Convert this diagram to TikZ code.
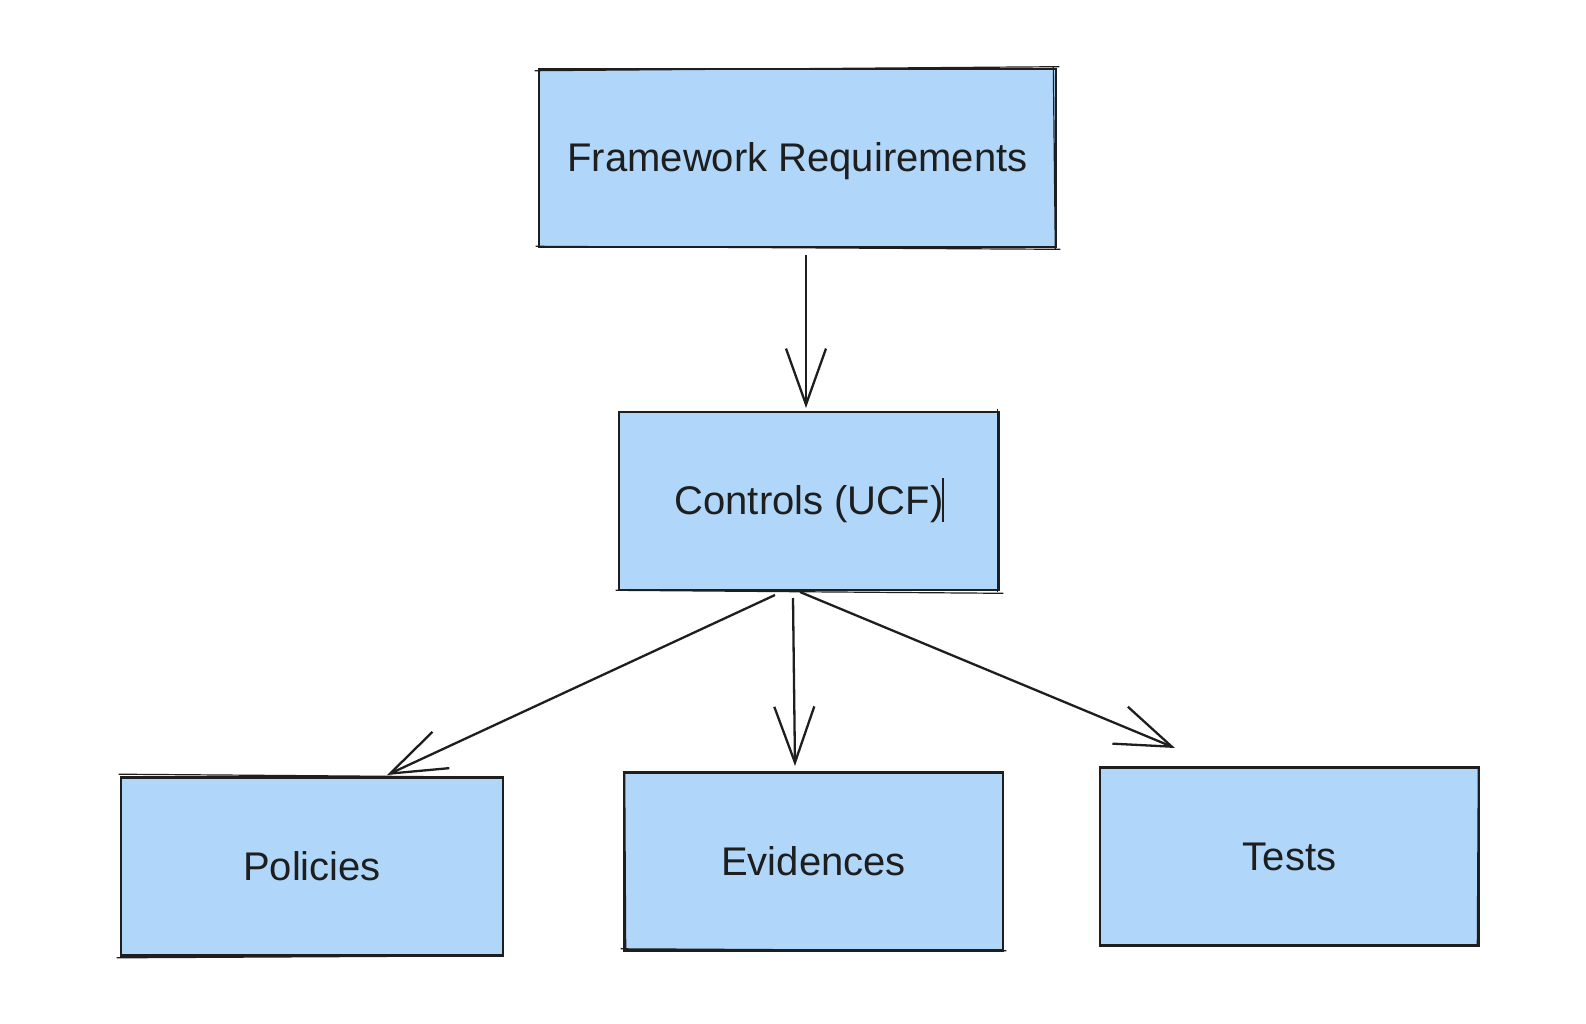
\documentclass[tikz,border=0pt]{standalone}
\usepackage{fontspec}
\setmainfont{Liberation Sans}
\usetikzlibrary{arrows.meta,calc}
\definecolor{boxblue}{RGB}{176,215,250}
\definecolor{ink}{RGB}{30,30,30}
\begin{document}
\begin{tikzpicture}[x=1pt,y=-1pt,
  box/.style={draw=ink,fill=boxblue,line width=2.6pt,minimum height=178pt,inner sep=0pt,
    text height=27pt,text depth=0pt,
    font=\fontsize{40}{48}\selectfont,text=ink},
  conn/.style={draw=ink,line width=2.3pt,-{Straight Barb[length=56pt,width=40pt,line width=2.3pt]}}]
\useasboundingbox (0,0) rectangle (1586,1024);
\fill[white] (0,0) rectangle (1586,1024);
\node[box,minimum width=517pt] (fw) at (797.5,158) {Framework Requirements};
\node[box,minimum width=380pt] (ctrl) at (809,501) {Controls (UCF)};
\node[box,minimum width=382pt] (pol) at (312,866.5) {Policies};
\node[box,minimum width=379pt] (evi) at (813.5,861.5) {Evidences};
\node[box,minimum width=379pt] (tst) at (1289.5,856.5) {Tests};
% sketchy second strokes
\draw[ink,line width=1.2pt] ($(fw.north west)+(-3,3)$) -- ($(fw.north east)+(2,-1)$);
\draw[ink,line width=1.2pt] ($(fw.south west)+(-2,-2)$) -- ($(fw.south east)+(3,1)$);
\draw[ink,line width=1.2pt] ($(fw.north east)+(-4,-1)$) -- ($(fw.south east)+(-2,1)$);
\draw[ink,line width=1.2pt] ($(ctrl.south west)+(-2,-1)$) -- ($(ctrl.south east)+(3,2)$);
\draw[ink,line width=1.2pt] ($(ctrl.north east)+(-3,-2)$) -- ($(ctrl.south east)+(-3,1)$);
\draw[ink,line width=1.2pt] ($(pol.south west)+(-3,1)$) -- ($(pol.south east)+(-4,-1)$);
\draw[ink,line width=1.2pt] ($(pol.north west)+(-1,-2)$) -- ($(pol.north east)+(-3,1)$);
\draw[ink,line width=1.2pt] ($(evi.south west)+(-2,-3)$) -- ($(evi.south east)+(2,-1)$);
\draw[ink,line width=1.2pt] ($(evi.north west)+(2,3)$) -- ($(evi.south west)+(3,-2)$);
\draw[ink,line width=1.2pt] ($(tst.south east)+(-3,-2)$) -- ($(tst.north east)+(-2,3)$);
% cursor
\draw[ink,line width=1.2pt] (943,478) -- (943,522);
% connectors
\coordinate (a1) at (806,255);
\coordinate (b1) at (806,408);
\draw[conn] (a1) -- (b1);
\coordinate (a2) at (775,595);
\coordinate (b2) at (387,775);
\draw[conn] (a2) -- (b2);
\coordinate (a3) at (793,598);
\coordinate (b3) at (795,766);
\draw[conn] (a3) -- (b3);
\coordinate (a4) at (800,592);
\coordinate (b4) at (1175,748);
\draw[conn] (a4) -- (b4);
\end{tikzpicture}
\end{document}
